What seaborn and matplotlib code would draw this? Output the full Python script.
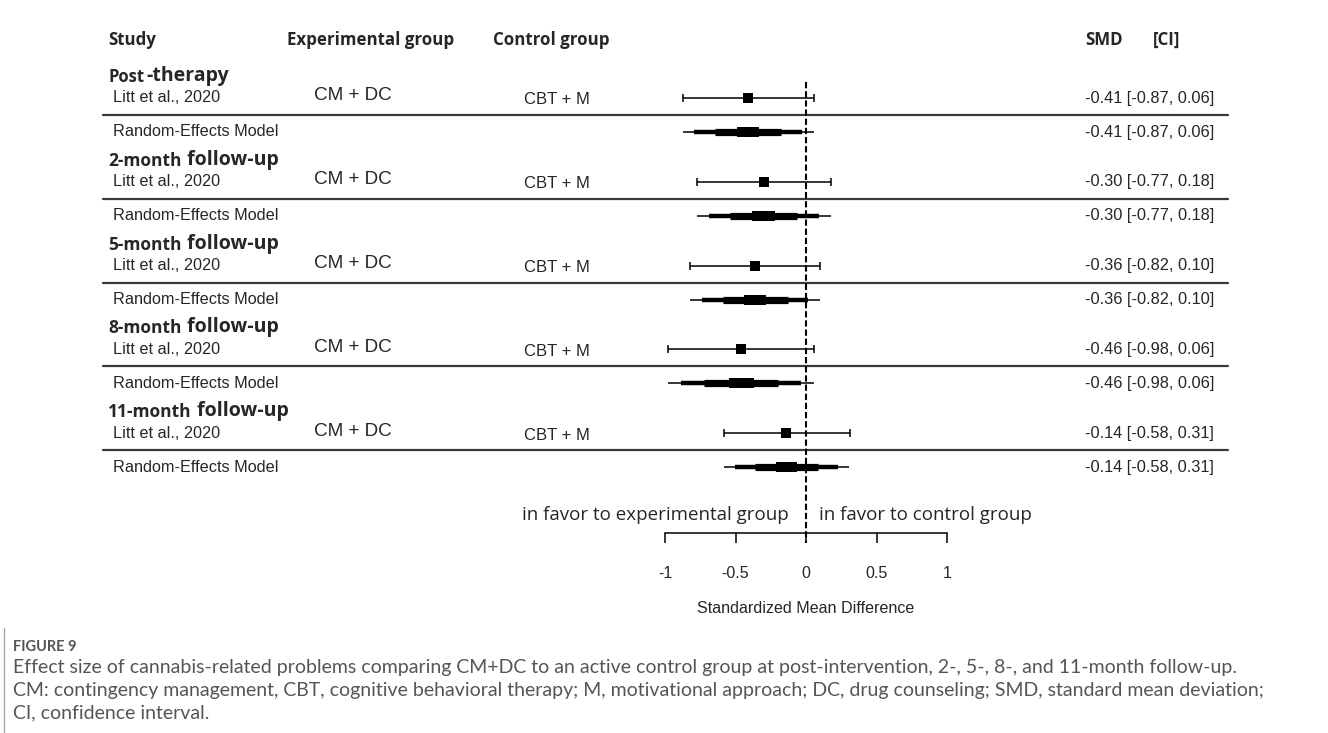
import numpy as np
import pandas as pd
import seaborn as sns
import matplotlib.pyplot as plt
from matplotlib.transforms import blended_transform_factory

# data
period_small = ["Post", "2-month", "5-month", "8-month", "11-month"]
period_large = ["-therapy", " follow-up", " follow-up", " follow-up", " follow-up"]
study = ["Litt et al., 2020"] * 5
exp_group = ["CM + DC"] * 5
ctrl_group = ["CBT + M"] * 5
smd = [-0.41, -0.30, -0.36, -0.46, -0.14]
ci_low = [-0.87, -0.77, -0.82, -0.98, -0.58]
ci_high = [0.06, 0.18, 0.10, 0.06, 0.31]
ticks = [-1, -0.5, 0, 0.5, 1]
# nested bar widths (fraction of CI) and thickness for the pooled estimate
re_frac = [1.0, 0.82, 0.5, 0.17]
re_lw = [1.1, 3.2, 5.2, 7.2]

W, H = 1328, 733
sns.set_theme(style="white")
plt.rcParams["font.family"] = ["Liberation Sans", "DejaVu Sans"]

fig = plt.figure(figsize=(W / 100, H / 100), dpi=100)
ax = fig.add_axes([0, 0, 1, 1])
x_zero, px_unit = 806, 141
ax.set_xlim((0 - x_zero) / px_unit, (W - x_zero) / px_unit)
ax.set_ylim(H, 0)
ax.axis("off")
tr = blended_transform_factory(ax.transAxes, ax.transData)


def fx(px):
    return px / W


# row layout (pixel rows)
block_top = 75
block_step = 83.8
head_y = np.array([block_top + i * block_step for i in range(5)])
study_y = head_y + 23
line_y = head_y + 40
re_y = head_y + 57

# column headers
hdr = dict(fontsize=12.2, fontweight="bold", family="Open Sans", va="center", transform=tr)
ax.text(fx(108), 40, "Study", **hdr)
ax.text(fx(287), 40, "Experimental group", **hdr)
ax.text(fx(493), 40, "Control group", **hdr)
ax.text(fx(1085), 40, "SMD", **hdr)
ax.text(fx(1153), 40, "[CI]", **hdr)

for i in range(5):
    t1 = ax.text(fx(108), head_y[i] + 2, period_small[i], fontsize=12 if i == 0 else 12.5,
                 fontweight="bold", family="Open Sans", va="center", transform=tr)
    ax.annotate(period_large[i], xy=(1, 0), xycoords=t1, xytext=(1.5 if i == 0 else 0, 0),
                textcoords="offset points", fontsize=14, fontweight="bold",
                family="Open Sans", va="bottom", ha="left")
    ax.text(fx(113), study_y[i], study[i], fontsize=11.7, va="center", transform=tr)
    ax.text(fx(314), study_y[i] - 2, exp_group[i], fontsize=13.6, va="center", transform=tr)
    ax.text(fx(524), study_y[i] + 2, ctrl_group[i], fontsize=12, va="center", transform=tr)
    ax.text(fx(113), re_y[i], "Random-Effects Model", fontsize=11.7, va="center", transform=tr)
    lab = f"{smd[i]:.2f} [{ci_low[i]:.2f}, {ci_high[i]:.2f}]"
    ax.text(fx(1085), study_y[i], lab, fontsize=11.8, va="center", transform=tr)
    ax.text(fx(1085), re_y[i], lab, fontsize=11.8, va="center", transform=tr)
    ax.plot([fx(103), fx(1228)], [line_y[i]] * 2, color="#3a3a3a", lw=1.6, transform=tr)

# study estimates
df = pd.DataFrame({"smd": smd, "y": study_y, "lo": ci_low, "hi": ci_high})
ax.errorbar(df["smd"], df["y"], xerr=[df["smd"] - df["lo"], df["hi"] - df["smd"]],
            fmt="none", ecolor="black", elinewidth=1.1, capsize=3, capthick=1.1)
sns.scatterplot(data=df, x="smd", y="y", marker="s", s=45, color="black",
                edgecolor="black", linewidth=0, ax=ax, legend=False, zorder=3)

# pooled estimates: nested bars
for i in range(5):
    half = (ci_high[i] - ci_low[i]) / 2
    for f, lw in zip(re_frac, re_lw):
        ax.hlines(re_y[i], smd[i] - half * f, smd[i] + half * f, color="black", lw=lw,
                  capstyle="butt")

ax.vlines(0, 82, 543, color="black", lw=1.5, linestyles=(0, (3, 1.4)), zorder=4)

ax.text(-0.12, 515, "in favor to experimental group", fontsize=13.5, family="Open Sans",
        ha="right", va="center")
ax.text(0.095, 515, "in favor to control group", fontsize=13.5, family="Open Sans",
        ha="left", va="center")

# x axis
ax2 = fig.add_axes([(x_zero - px_unit) / W, (H - 533) / H, 2 * px_unit / W, 0.01])
ax2.set_xlim(-1, 1)
ax2.patch.set_visible(False)
for s in ["top", "left", "right"]:
    ax2.spines[s].set_visible(False)
ax2.spines["bottom"].set_color("black")
ax2.spines["bottom"].set_linewidth(1.1)
ax2.set_yticks([])
ax2.set_xticks(ticks)
ax2.set_xticklabels(["-1", "-0.5", "0", "0.5", "1"])
ax2.tick_params(axis="x", direction="out", length=7.5, width=1.1, color="black",
                pad=16, labelsize=11.5, bottom=True)
ax2.set_xlabel("Standardized Mean Difference", fontsize=11.6, labelpad=15)

# caption
ax.plot([fx(4), fx(4)], [628, H], color="#aaaaaa", lw=1, transform=tr)
ax.text(fx(13), 647, "FIGURE 9", fontsize=10.5, color="#555555", family="Lato",
        fontweight="bold", va="center", transform=tr)
cap = ["Effect size of cannabis-related problems comparing CM+DC to an active control group at post-intervention, 2-, 5-, 8-, and 11-month follow-up.",
       "CM: contingency management, CBT, cognitive behavioral therapy; M, motivational approach; DC, drug counseling; SMD, standard mean deviation;",
       "CI, confidence interval."]
for k, line in enumerate(cap):
    ax.text(fx(13), 668 + k * 22.5, line, fontsize=14, color="#555555", family="Lato",
            va="center", transform=tr)

fig.savefig("out.png", dpi=100)
